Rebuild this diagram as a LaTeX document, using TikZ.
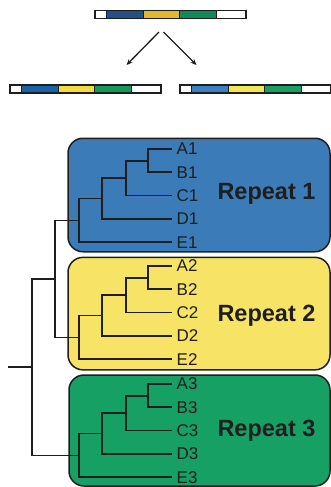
\documentclass[tikz,border=0pt]{standalone}
\usepackage{fontspec}
\setmainfont{Liberation Sans}
\usetikzlibrary{arrows.meta}
\definecolor{tblue}{HTML}{1E5189}
\definecolor{tyellow}{HTML}{E5B731}
\definecolor{tgreen}{HTML}{0F8A58}
\definecolor{lblue}{HTML}{1C62A6}
\definecolor{lyellow}{HTML}{F3DC3E}
\definecolor{lgreen}{HTML}{139A5A}
\definecolor{rblue}{HTML}{3D80C0}
\definecolor{ryellow}{HTML}{F4E558}
\definecolor{rgreen}{HTML}{17A062}
\definecolor{boxblue}{HTML}{3A7BB8}
\definecolor{boxyellow}{HTML}{F7E466}
\definecolor{boxgreen}{HTML}{17A064}
\definecolor{ink}{HTML}{1E1E1E}
\tikzset{
  seg/.style={draw=ink, line width=0.8pt},
  barframe/.style={draw=ink, line width=1.6pt},
  branch/.style={draw=ink, line width=1.7pt},
  arr/.style={draw=ink, line width=1.3pt, -{Stealth[length=6pt,width=5pt]}},
  repbox/.style={draw=ink, line width=1.5pt, rounded corners=15pt},
  leaf/.style={anchor=west, inner xsep=4.5pt, inner ysep=0pt, font=\fontsize{17}{17}\selectfont, text=ink},
  replabel/.style={font=\fontsize{23.5}{23.5}\selectfont\bfseries, text=ink},
}
\newcommand{\mybar}[7]{% #1 x0 #2 y0 #3 y1 #4 blue #5 yellow #6 green #7 scale
  \fill[white] (#1,#2) rectangle ++(11*#7,#3-#2);
  \fill[#4] (#1+11*#7,#2) rectangle (#1+48*#7,#3);
  \fill[#5] (#1+48*#7,#2) rectangle (#1+84.5*#7,#3);
  \fill[#6] (#1+84.5*#7,#2) rectangle (#1+121.5*#7,#3);
  \fill[white] (#1+121.5*#7,#2) rectangle (#1+151*#7,#3);
  \foreach \xx in {11,48,84.5,121.5} {\draw[seg] (#1+\xx*#7,#2) -- (#1+\xx*#7,#3);}
  \draw[barframe] (#1,#2) rectangle (#1+151*#7,#3);
}
\begin{document}
\begin{tikzpicture}[x=1pt,y=-1pt]
\useasboundingbox (0,0) rectangle (331,487);
% bars
\mybar{95}{10.5}{18.5}{tblue}{tyellow}{tgreen}{1}
\mybar{10}{85}{93}{lblue}{lyellow}{lgreen}{1}
\mybar{180}{85}{93}{rblue}{ryellow}{rgreen}{1}
\coordinate (sL) at (159,32);
\coordinate (sR) at (163.5,32);
\coordinate (eL) at (126.5,65);
\coordinate (eR) at (196.5,65);
\draw[arr] (sL) -- (eL);
\draw[arr] (sR) -- (eR);
% boxes
\node[repbox, fill=boxblue, minimum width=262pt, minimum height=113.5pt, inner sep=0pt] (box1) at (199,195) {};
\node[repbox, fill=boxyellow, minimum width=262pt, minimum height=112.5pt, inner sep=0pt] (box2) at (199,313.6) {};
\node[repbox, fill=boxgreen, minimum width=261pt, minimum height=111pt, inner sep=0pt] (box3) at (199.5,430.5) {};
\node[replabel] (rep1) at (266.5,194) {Repeat 1};
\node[replabel] (rep2) at (266.5,316) {Repeat 2};
\node[replabel] (rep3) at (266.5,431) {Repeat 3};
% trees
\foreach \r/\y in {1/149,2/266,3/384}{
  \pgfmathsetmacro{\ya}{\y}
  \pgfmathsetmacro{\yb}{\y+23.3}
  \pgfmathsetmacro{\yc}{\y+46.6}
  \pgfmathsetmacro{\yd}{\y+69.9}
  \pgfmathsetmacro{\ye}{\y+93.2}
  \node[leaf] (A\r) at (172,\ya) {A\r};
  \node[leaf] (B\r) at (172,\yb) {B\r};
  \node[leaf] (C\r) at (172,\yc) {C\r};
  \node[leaf] (D\r) at (172,\yd) {D\r};
  \node[leaf] (E\r) at (172,\ye) {E\r};
  \pgfmathsetmacro{\yab}{(\ya+\yb)/2}
  \pgfmathsetmacro{\yabc}{(\yab+\yc)/2}
  \pgfmathsetmacro{\yabcd}{(\yabc+\yd)/2}
  \pgfmathsetmacro{\yroot}{(\yabcd+\ye)/2}
  \coordinate (ab\r) at (148.3,\yab);
  \coordinate (abc\r) at (125.7,\yabc);
  \coordinate (abcd\r) at (101.7,\yabcd);
  \coordinate (rt\r) at (79,\yroot);
  \draw[branch] (A\r.west) -| (ab\r) |- (B\r.west);
  \draw[branch] (ab\r) -| (abc\r) |- (C\r.west);
  \draw[branch] (abc\r) -| (abcd\r) |- (D\r.west);
  \draw[branch] (abcd\r) -| (rt\r) |- (E\r.west);
}
\path (rt1) -- (rt2) coordinate[pos=0.5] (m12tmp);
\coordinate (j12) at (55,0 |- m12tmp);
\draw[branch] (rt1) -| (j12) |- (rt2);
\path (j12) -- (rt3) coordinate[pos=0.5] (m123tmp);
\coordinate (j123) at (32.3,0 |- m123tmp);
\draw[branch] (j12) -| (j123) |- (rt3);
\coordinate (root) at (8.3,0 |- j123);
\draw[branch] (root) -- (j123);
\end{tikzpicture}
\end{document}
